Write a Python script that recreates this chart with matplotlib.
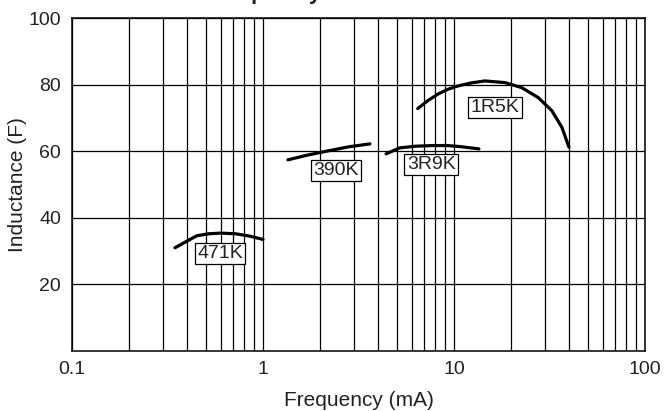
import matplotlib
matplotlib.use("Agg")
import matplotlib.pyplot as plt
from matplotlib.ticker import LogLocator, FixedLocator, NullFormatter

plt.rcParams['font.family'] = ['Liberation Sans', 'DejaVu Sans']

# curve data (frequency, inductance)
f_471K = [0.346, 0.40, 0.45, 0.52, 0.60, 0.72, 0.85, 1.0]
l_471K = [31.0, 33.0, 34.6, 35.2, 35.4, 35.2, 34.5, 33.5]

f_390K = [1.35, 1.7, 2.15, 2.8, 3.63]
l_390K = [57.4, 58.8, 60.0, 61.3, 62.2]

f_3R9K = [4.41, 5.2, 6.3, 7.8, 9.2, 10.7, 13.5]
l_3R9K = [59.2, 61.0, 61.5, 61.7, 61.7, 61.4, 60.7]

f_1R5K = [6.46, 7.3, 8.27, 9.3, 10.5, 12.3, 14.5, 18.5, 22.6, 27.6, 32.5, 36.7, 40.0]
l_1R5K = [72.8, 75.2, 77.2, 78.6, 79.6, 80.5, 81.1, 80.6, 79.1, 76.1, 72.2, 67.2, 61.2]

names = ["471K", "390K", "3R9K", "1R5K"]
label_f = [0.595, 2.41, 7.59, 16.4]
label_l = [29.3, 54.2, 56.0, 73.1]

y_ticks = [20, 40, 60, 80, 100]
x_ticks = [0.1, 1, 10, 100]
x_ticklabels = ["0.1", "1", "10", "100"]

fig = plt.figure(figsize=(6.64, 4.11), dpi=100)
ax = fig.add_axes([72/664, 1-351/411, (645-72)/664, (351-18)/411])

ax.set_xscale('log')
ax.set_xlim(0.1, 100)
ax.set_ylim(0, 100)

ax.xaxis.set_major_locator(FixedLocator(x_ticks))
ax.set_xticklabels(x_ticklabels)
ax.xaxis.set_minor_locator(LogLocator(base=10, subs=range(2, 10)))
ax.xaxis.set_minor_formatter(NullFormatter())
ax.yaxis.set_major_locator(FixedLocator(y_ticks))

ax.grid(True, which='both', axis='x', color='black', linewidth=0.9)
ax.grid(True, which='major', axis='y', color='black', linewidth=0.9)
ax.tick_params(which='both', length=0, labelsize=14, colors='#222222')
ax.tick_params(axis='x', pad=7)
ax.tick_params(axis='y', pad=8)
for s in ax.spines.values():
    s.set_color('black')
    s.set_linewidth(1.1)

for fx, ly in [(f_471K, l_471K), (f_390K, l_390K), (f_3R9K, l_3R9K), (f_1R5K, l_1R5K)]:
    ax.plot(fx, ly, color='black', linewidth=2.3, solid_capstyle='round', zorder=3)

for n, fx, ly in zip(names, label_f, label_l):
    ax.text(fx, ly, n, ha='center', va='center', fontsize=14, color='#222222', zorder=4,
            bbox=dict(boxstyle='square,pad=0.12', facecolor='white', edgecolor='black', linewidth=0.9))

ax.set_xlabel("Frequency (mA)", fontsize=15, color='#222222')
ax.set_ylabel("Inductance (F)", fontsize=15, color='#222222')
ax.xaxis.set_label_coords(0.5, (351-391)/333)
ax.yaxis.set_label_coords((27-72)/573, 0.5)

fig.text(345/664, 1 + 1/411, "Frequency vs. Inductance", ha='center', va='baseline',
         fontsize=16, fontweight='bold', color='#222222')

fig.savefig("out.png", dpi=100)
